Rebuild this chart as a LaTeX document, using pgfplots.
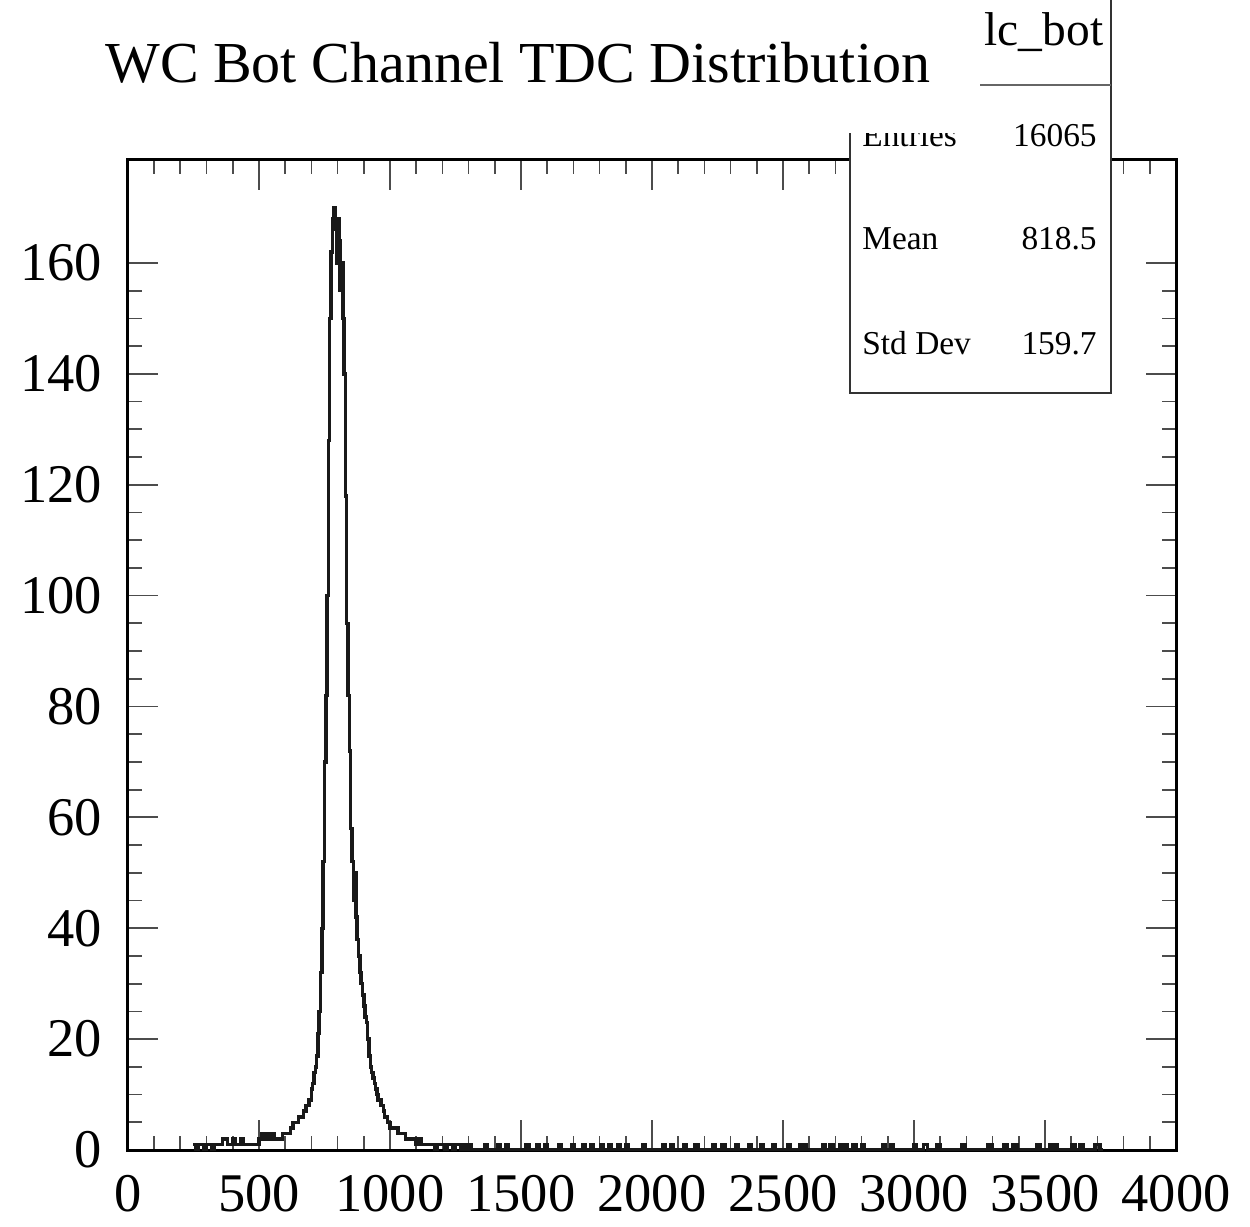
\documentclass[border=0pt]{standalone}
\usepackage{fontspec}
\setmainfont{Liberation Serif}
\usepackage{pgfplots}
\pgfplotsset{compat=1.18}
\begin{document}
\begin{tikzpicture}
\begin{axis}[
  scale only axis, width=20.96cm, height=19.8cm,
  xmin=0, xmax=4000, ymin=0, ymax=178.57,
  xtick={0,500,...,4000}, ytick={0,20,...,160},
  minor x tick num=4, minor y tick num=3,
  tick align=inside, xtick pos=both, ytick pos=both,
  major tick length=0.6cm, minor tick length=0.28cm,
  axis line style={line width=0.06cm},
  tick style={line width=0.035cm, black!70},
  tick label style={font=\fontsize{31}{31}\selectfont},
  xticklabel style={yshift=-0.38cm},
  yticklabel style={xshift=-0.4cm},
  /pgf/number format/1000 sep={},
  /pgf/number format/assume math mode=true,
  clip=true,
]
\addplot[const plot mark left, black!90, line width=0.07cm] coordinates {
(250,1)(260,0)(270,1)(280,1)(290,0)(300,1)(310,1)(320,0)(330,1)(340,1)
(350,1)(360,2)(370,2)(380,1)(390,1)(400,2)(410,1)(420,1)(430,2)(440,1)
(450,1)(460,1)(470,1)(480,1)(490,1)(500,2)(510,3)(520,2)(530,3)(540,2)
(550,3)(560,2)(570,2)(580,2)(590,3)(600,3)(610,3)(620,4)(630,5)(640,5)
(650,6)(660,6)(670,7)(680,8)(690,9)(700,11)(705,12)(710,14)(715,15)(720,17)
(725,21)(730,25)(735,32)(740,40)(745,52)(750,70)(755,82)(760,100)(765,128)(770,150)
(775,162)(780,168)(785,170)(790,166)(795,160)(800,168)(805,164)(810,155)(815,160)(820,150)
(825,140)(830,118)(835,95)(840,82)(845,72)(850,58)(855,52)(860,45)(865,50)(870,42)
(875,38)(880,35)(885,32)(890,30)(895,28)(900,26)(905,24)(910,23)(915,20)(920,17)
(925,15)(930,14)(935,13)(940,12)(945,11)(950,10)(955,9)(960,9)(965,8)(970,8)
(975,7)(980,6)(985,6)(990,5)(995,5)(1000,4)(1010,4)(1020,4)(1030,3)(1040,3)
(1050,3)(1060,2)(1070,2)(1080,2)(1090,2)(1100,1)(1110,2)(1120,1)(1130,1)(1140,1)
(1150,1)(1160,1)(1170,0)(1180,1)(1190,1)(1200,1)(1210,0)(1220,1)(1230,1)(1240,0)
(1250,1)(1260,1)(1270,0)(1280,1)(1290,0)
(1300,1)(1310,0)(1360,1)(1370,0)(1410,1)(1420,0)(1440,1)(1450,0)(1520,1)(1530,0)
(1560,1)(1570,0)(1590,1)(1600,0)(1645,1)(1655,0)(1695,1)(1705,0)(1735,1)(1745,0)
(1765,1)(1775,0)(1805,1)(1815,0)(1835,1)(1845,0)(1870,1)(1880,0)(1900,1)(1910,0)
(1965,1)(1975,0)(2040,1)(2050,0)(2072,1)(2082,0)(2120,1)(2132,0)(2165,1)(2176,0)
(2230,1)(2240,0)(2268,1)(2278,0)(2320,1)(2330,0)(2370,1)(2380,0)(2415,1)(2425,0)
(2460,1)(2470,0)(2518,1)(2526,0)(2565,1)(2575,0)(2582,1)(2590,0)(2652,1)(2662,0)
(2680,1)(2690,0)(2718,1)(2728,0)(2736,1)(2744,0)(2768,1)(2778,0)(2800,1)(2812,0)
(2882,1)(2892,0)(2910,1)(2920,0)(2998,1)(3010,0)(3036,1)(3052,0)(3088,1)(3099,0)
(3183,1)(3195,0)(3283,1)(3298,0)(3341,1)(3355,0)(3378,1)(3393,0)(3469,1)(3481,0)
(3519,1)(3530,0)(3538,1)(3546,0)(3603,1)(3615,0)(3632,1)(3645,0)(3691,1)(3710,0)(3720,0)
};
\coordinate (bbl) at (rel axis cs:-0.1221,-0.0768);
\coordinate (btr) at (rel axis cs:1.0706,1.1616);
\coordinate (sb1) at (rel axis cs:0.6889,0.7646);
\coordinate (sb2) at (rel axis cs:0.9380,1.25);
\coordinate (ent) at (rel axis cs:0.7004,1.0131);
\coordinate (entv) at (rel axis cs:0.9246,1.0131);
\coordinate (mea) at (rel axis cs:0.7004,0.9091);
\coordinate (meav) at (rel axis cs:0.9246,0.9091);
\coordinate (std) at (rel axis cs:0.7004,0.8040);
\coordinate (stdv) at (rel axis cs:0.9246,0.8040);
\coordinate (ln1) at (rel axis cs:0.813,1.0758);
\coordinate (ln2) at (rel axis cs:0.938,1.0758);
\coordinate (hname) at (rel axis cs:0.874,1.116);
\coordinate (cv1) at (rel axis cs:0.55,1.0273);
\coordinate (cv2) at (rel axis cs:0.813,1.25);
\coordinate (ttl) at (rel axis cs:-0.0219,1.0778);
\end{axis}
\draw[line width=0.04cm, black!80, fill=white] (sb1) rectangle (sb2);
\draw[line width=0.03cm, black!60] (ln1) -- (ln2);
\node[anchor=base, inner sep=0pt, font=\fontsize{27}{27}\selectfont] at (hname) {lc\_bot};
\node[anchor=base west, inner sep=0pt, font=\fontsize{19}{19}\selectfont] at (ent) {Entries};
\node[anchor=base east, inner sep=0pt, font=\fontsize{19}{19}\selectfont] at (entv) {16065};
\node[anchor=base west, inner sep=0pt, font=\fontsize{19}{19}\selectfont] at (mea) {Mean};
\node[anchor=base east, inner sep=0pt, font=\fontsize{19}{19}\selectfont] at (meav) {818.5};
\node[anchor=base west, inner sep=0pt, font=\fontsize{19}{19}\selectfont] at (std) {Std Dev};
\node[anchor=base east, inner sep=0pt, font=\fontsize{19}{19}\selectfont] at (stdv) {159.7};
\fill[white] (cv1) rectangle (cv2);
\node[anchor=base west, inner sep=0pt, font=\fontsize{33}{33}\selectfont] at (ttl) {WC Bot Channel TDC Distribution};
\pgfresetboundingbox
\path[use as bounding box] (bbl) rectangle (btr);
\end{tikzpicture}
\end{document}
